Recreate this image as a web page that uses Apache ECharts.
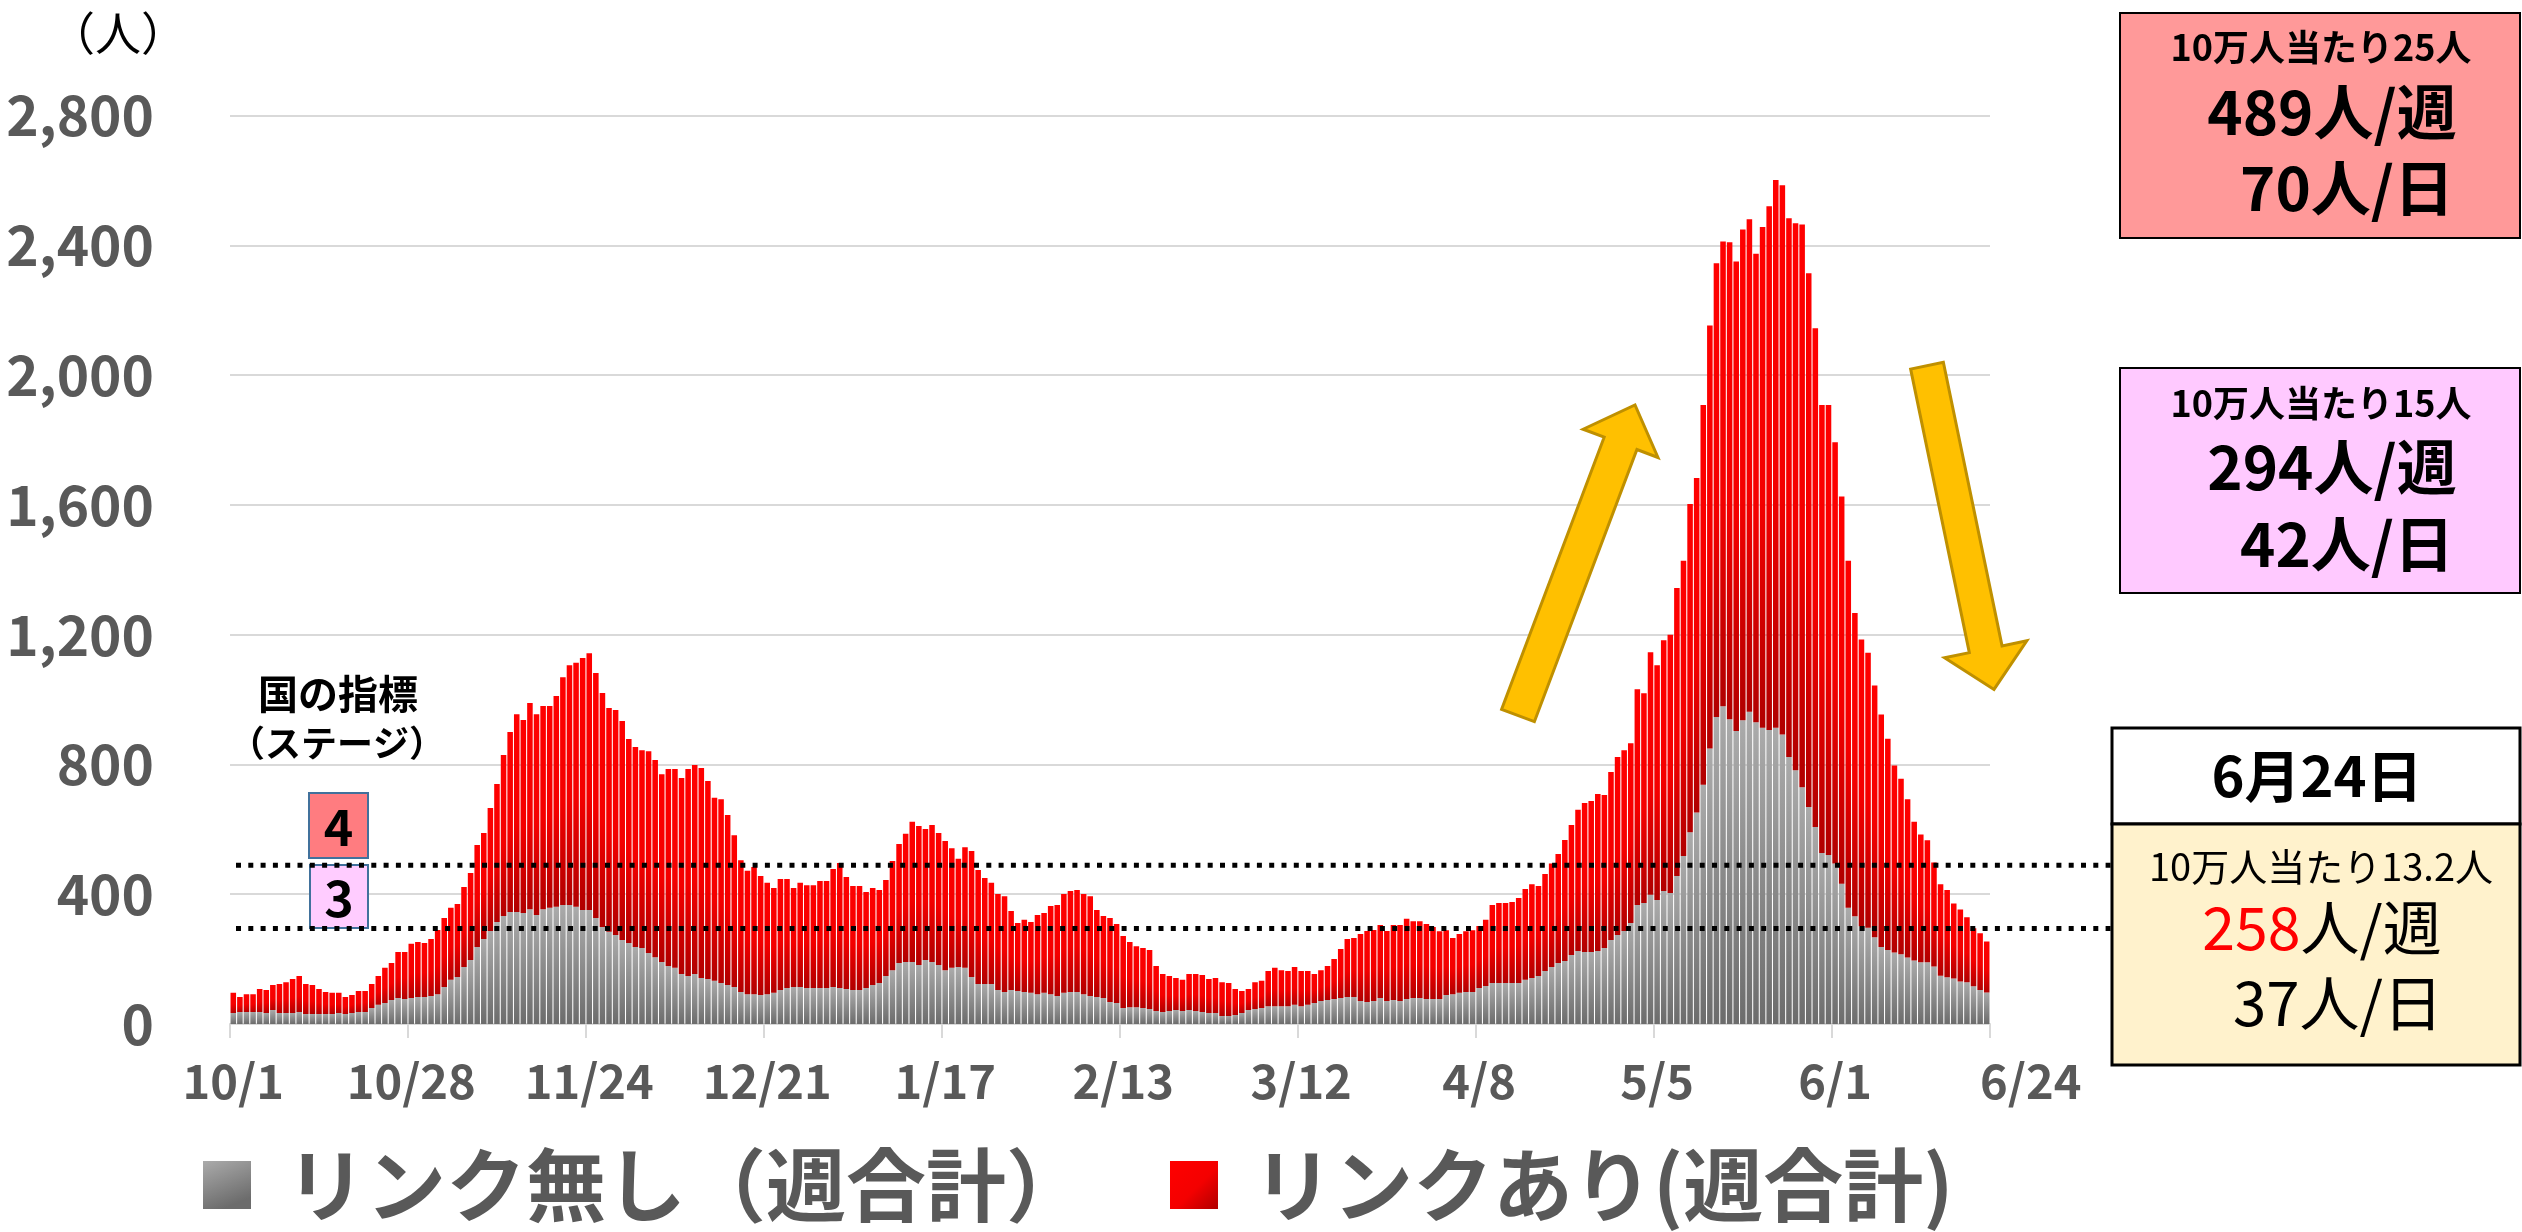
<!DOCTYPE html>
<html>
<head>
<meta charset="utf-8">
<script src="https://cdn.jsdelivr.net/npm/echarts@6/dist/echarts.min.js"></script>
<style>
html,body{margin:0;padding:0;background:#fff;}
#main{width:2522px;height:1232px;}
</style>
</head>
<body>
<div id="main"></div>
<script>
// ---- Data (daily counts, 2020/10/1 – 2021/6/24, weekly totals) ----
const startDate = [2020, 9, 1];
const dayCount = 267;
const labelEvery = 27;

const noLink = [34,37,37,37,37,34,43,34,34,34,37,31,31,31,31,31,34,31,34,37,37,49,59,65,74,80,77,80,83,83,86,92,114,136,145,176,197,237,262,287,314,333,345,345,342,354,336,354,358,361,367,367,361,351,351,327,299,284,274,259,250,237,234,219,206,191,179,173,154,148,154,142,139,133,126,120,114,99,92,92,89,92,96,105,111,114,114,111,111,111,111,114,111,108,105,105,111,120,126,148,166,188,191,191,182,197,191,182,166,173,176,173,145,123,123,123,105,99,105,102,99,96,92,96,92,86,96,99,99,92,86,83,80,68,65,49,52,52,49,46,40,37,40,43,40,43,40,37,34,34,25,25,28,34,43,46,49,55,55,55,55,59,55,59,65,71,74,77,80,83,83,71,68,71,80,71,74,71,77,80,80,77,77,77,89,92,96,99,99,111,117,126,126,126,126,126,136,142,148,163,176,188,194,213,225,222,222,225,234,259,274,287,311,367,373,398,382,410,404,456,518,591,652,737,849,946,979,939,903,936,962,930,913,906,913,892,823,782,730,669,607,527,521,495,432,358,332,301,297,267,237,228,220,215,205,196,190,190,177,149,144,140,131,129,116,105,97];

const withLink = [62,46,55,55,71,71,77,89,95,105,111,92,89,77,68,65,62,52,55,65,65,74,89,108,114,142,145,167,170,167,176,198,213,222,225,246,268,315,327,379,426,496,555,610,595,635,619,626,622,650,702,739,752,777,792,755,721,690,694,675,628,617,610,622,608,579,607,613,604,638,644,647,610,564,567,524,468,406,380,392,367,343,323,342,336,305,321,317,317,330,330,364,385,345,320,320,296,299,287,296,336,367,395,432,428,404,422,407,398,369,333,372,388,352,327,312,296,295,243,209,222,218,244,246,272,281,305,311,314,309,308,268,253,259,243,222,201,188,185,182,139,117,108,99,96,111,114,114,105,108,104,101,80,68,65,83,84,108,118,111,108,117,108,104,89,95,105,123,151,179,182,206,219,219,225,216,231,234,247,237,237,231,222,209,200,173,181,187,190,191,204,241,247,247,250,262,280,289,277,299,319,336,373,400,435,459,465,484,472,518,549,557,554,665,646,748,724,773,796,888,910,1012,1031,1171,1304,1399,1433,1470,1447,1513,1518,1444,1543,1614,1688,1693,1660,1686,1734,1645,1537,1381,1387,1298,1194,1070,935,884,847,776,717,651,577,541,488,427,394,376,321,282,269,231,222,200,179,175,157];

const seriesNames = ['リンク無し（週合計）', 'リンクあり(週合計)'];
const stageLines = [489, 294];           // 国の指標 stage 4 / stage 3 (人/週)
const yTicks = [0, 400, 800, 1200, 1600, 2000, 2400, 2800];

const dates = [];
for (let i = 0; i < dayCount; i++) {
  const d = new Date(startDate[0], startDate[1], startDate[2] + i);
  dates.push((d.getMonth() + 1) + '/' + d.getDate());
}

const FONT = '"Noto Sans CJK JP", "Noto Sans", sans-serif';
const AXIS_GRAY = '#595959';

const chart = echarts.init(document.getElementById('main'), null, {renderer: 'canvas'});

const grayGrad = {type: 'linear', x: 0, y: 0, x2: 0.4, y2: 1,
  colorStops: [{offset: 0, color: '#ababab'}, {offset: 1, color: '#6c6c6c'}]};
const redGrad = {type: 'linear', x: 0, y: 0, x2: 1, y2: 1,
  colorStops: [{offset: 0, color: '#ff0000'}, {offset: 0.55, color: '#f40000'}, {offset: 1, color: '#b00000'}]};

const showIdx = (i) => i % labelEvery === 0 || i === dayCount - 1;
const tickIdx = (i) => i % labelEvery === 0;

chart.setOption({
  animation: false,
  backgroundColor: '#ffffff',
  grid: {left: 230, right: 532, top: 115.5, bottom: 208, containLabel: false},
  legend: {
    left: 198, top: 1136,
    itemWidth: 48, itemHeight: 48, itemGap: 84,
    icon: 'rect',
    data: seriesNames,
    textStyle: {fontFamily: FONT, fontSize: 80, fontWeight: 'bold', color: AXIS_GRAY,
      padding: [0, 0, 0, 30], lineHeight: 88}
  },
  xAxis: {
    type: 'category',
    data: dates,
    boundaryGap: true,
    axisLine: {show: true, lineStyle: {color: '#d9d9d9', width: 2}},
    axisTick: {show: true, interval: tickIdx, length: 14, lineStyle: {color: '#d9d9d9', width: 2}},
    axisLabel: {
      interval: showIdx,
      margin: 34,
      fontFamily: FONT, fontSize: 47, fontWeight: 'bold', color: AXIS_GRAY,
      formatter: function (v, i) { return i === dayCount - 1 ? '{last|' + v + '}' : v; },
      rich: {last: {fontFamily: FONT, fontSize: 47, fontWeight: 'bold', color: AXIS_GRAY, padding: [0, 0, 0, 88]}}
    },
    splitLine: {show: false}
  },
  yAxis: {
    type: 'value',
    min: yTicks[0], max: yTicks[yTicks.length - 1], interval: yTicks[1] - yTicks[0],
    axisLine: {show: false}, axisTick: {show: false},
    axisLabel: {
      margin: 76, fontFamily: FONT, fontSize: 55, fontWeight: 'bold', color: AXIS_GRAY,
      formatter: function (v) { return v.toLocaleString('en-US'); }
    },
    splitLine: {show: true, lineStyle: {color: '#d9d9d9', width: 2}}
  },
  series: [
    {name: seriesNames[0], type: 'bar', stack: 'total', data: noLink,
      barCategoryGap: '16%', itemStyle: {color: grayGrad}},
    {name: seriesNames[1], type: 'bar', stack: 'total', data: withLink,
      barCategoryGap: '16%', itemStyle: {color: redGrad}}
  ]
});

// ---- annotations ----
function arrow(tail, tip, sh, hl, hh) {
  const dx = tip[0] - tail[0], dy = tip[1] - tail[1];
  const L = Math.sqrt(dx * dx + dy * dy);
  const ux = dx / L, uy = dy / L, px = -uy, py = ux;
  const nx = tip[0] - ux * hl, ny = tip[1] - uy * hl;
  return [
    [tail[0] - px * sh, tail[1] - py * sh],
    [nx - px * sh, ny - py * sh],
    [nx - px * hh, ny - py * hh],
    [tip[0], tip[1]],
    [nx + px * hh, ny + py * hh],
    [nx + px * sh, ny + py * sh],
    [tail[0] + px * sh, tail[1] + py * sh]
  ];
}

function txt(x, y, text, size, weight, extra) {
  const st = Object.assign({
    x: x, y: y, text: text, fontFamily: FONT, fontSize: size, fontWeight: weight,
    fill: '#000', align: 'center', verticalAlign: 'middle',
    textAlign: 'center', textVerticalAlign: 'middle'
  }, extra || {});
  return {type: 'text', z: 120, style: st};
}
function box(x, y, w, h, fill, stroke, lw) {
  return {type: 'rect', z: 110, shape: {x: x, y: y, width: w, height: h},
    style: {fill: fill, stroke: stroke, lineWidth: lw}};
}

const graphics = [];

// unit label
graphics.push(txt(118, 33, '（人）', 46, 'normal'));

// stage boxes and title
graphics.push(txt(338, 694, '国の指標', 40, 'bold'));
graphics.push(txt(337, 743, '（ステージ）', 36, 'bold'));
graphics.push(box(309, 793, 59, 65, '#ff7c80', '#41719c', 2));
graphics.push(txt(338.5, 827, '4', 50, 'bold'));
graphics.push(box(310, 865, 58, 63, '#ffccff', '#41719c', 2));
graphics.push(txt(339, 898, '3', 50, 'bold'));

// dotted reference lines (positions through the y scale)
stageLines.forEach(function (v) {
  const y = chart.convertToPixel({yAxisIndex: 0}, v);
  graphics.push({type: 'line', z: 130, shape: {x1: 236, y1: y, x2: 2112, y2: y},
    style: {stroke: '#000', lineWidth: 5, lineDash: [5, 7.3]}});
});

// arrows
graphics.push({type: 'polygon', z: 115, shape: {points: arrow([1518, 715.5], [1635, 405], 17.5, 41, 40)},
  style: {fill: '#ffc000', stroke: '#bf9000', lineWidth: 3}});
graphics.push({type: 'polygon', z: 115, shape: {points: arrow([1927, 365.7], [1994, 689.4], 16.7, 41, 42)},
  style: {fill: '#ffc000', stroke: '#bf9000', lineWidth: 3}});

// right-side boxes
graphics.push(box(2120, 13, 400, 225, '#ff9999', '#000', 2));
graphics.push(txt(2321, 47, '10万人当たり25人', 36, 'bold'));
graphics.push(txt(2332, 112, '489人/週', 60, 'bold'));
graphics.push(txt(2347, 188, '70人/日', 60, 'bold'));

graphics.push(box(2120, 368, 400, 225, '#ffc9ff', '#000', 2));
graphics.push(txt(2321, 403, '10万人当たり15人', 36, 'bold'));
graphics.push(txt(2332, 467, '294人/週', 60, 'bold'));
graphics.push(txt(2347, 544, '42人/日', 60, 'bold'));

graphics.push(box(2112, 728, 408, 96, '#ffffff', '#000', 3));
graphics.push(txt(2317, 776, '6月24日', 56, 'bold'));
graphics.push(box(2112, 824, 408, 241, '#fff2cc', '#000', 3));
graphics.push(txt(2321, 867, '10万人当たり13.2人', 38, 'normal'));
graphics.push(txt(2322, 928, '{r|258}人/週', 59, 'normal', {
  rich: {r: {fill: '#ff0000', fontFamily: FONT, fontSize: 59, fontWeight: 'normal'}}
}));
graphics.push(txt(2338, 1003, '37人/日', 60, 'normal'));

chart.setOption({graphic: graphics});
</script>
</body>
</html>
